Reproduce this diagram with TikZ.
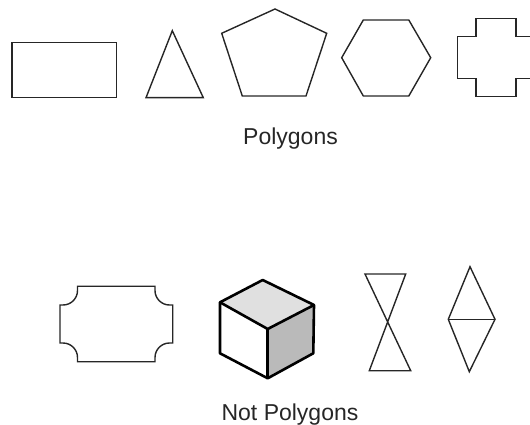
\documentclass[tikz,border=0pt]{standalone}
\usepackage{fontspec}
\setmainfont{Liberation Sans}
\begin{document}
\begin{tikzpicture}[x=1pt,y=-1pt,
  thinshape/.style={draw=black!85,line width=1.4pt,line join=miter},
  cubeline/.style={draw=black,line width=2.6pt,line join=round},
  caption/.style={inner sep=0pt,anchor=base,font=\fontsize{23}{27}\selectfont,text=black!85}]
\useasboundingbox (0,0) rectangle (530,425);
% Polygons row
\draw[thinshape] (12,42.5) rectangle (116.7,97.7);
\draw[thinshape] (146,97.7) -- (203.3,97.7) -- (172.3,30.7) -- cycle;
\draw[thinshape] (275,9) -- (326.7,33.3) -- (306,96) -- (242.3,96) -- (221.7,33.3) -- cycle;
\draw[thinshape] (363.3,20) -- (408.8,20) -- (430.7,57.7) -- (408.8,96) -- (363.3,96) -- (341.7,57.7) -- cycle;
\draw[thinshape] (531,36.7) -- (516,36.7) -- (516,18.3) -- (476,18.3) -- (476,36.7) -- (457.3,36.7)
  -- (457.3,78.3) -- (476,78.3) -- (476,96.7) -- (516,96.7) -- (516,78.3) -- (531,78.3);
\node[caption] (poly) at (290.5,145) {Polygons};
% Not polygons row
\draw[thinshape] (77.5,286.2) -- (155,286.2) -- (155,290.5) arc[start angle=180,end angle=90,radius=14.5]
  -- (172.7,305) -- (172.7,343) -- (169.5,343) arc[start angle=270,end angle=180,radius=14.5]
  -- (155,361.7) -- (77.5,361.7) -- (77.5,357.5) arc[start angle=0,end angle=-90,radius=14.5]
  -- (60,343) -- (60,305) -- (63,305) arc[start angle=90,end angle=0,radius=14.5] -- cycle;
% cube
\fill[black!12] (262.7,280) -- (314,305) -- (267.7,329) -- (220,302.3) -- cycle;
\fill[black!27] (314,305) -- (313.3,353.3) -- (267.7,378.3) -- (267.7,329) -- cycle;
\draw[cubeline] (262.7,280) -- (314,305) -- (313.3,353.3) -- (267.7,378.3) -- (220,353.3) -- (220,302.3) -- cycle;
\draw[cubeline] (220,302.3) -- (267.7,329) -- (314,305);
\draw[cubeline] (267.7,329) -- (267.7,378.3);
% bow tie
\draw[thinshape] (365,274) -- (405.7,274) -- (369.3,370.7) -- (410.7,370.7) -- cycle;
% double triangle
\draw[thinshape] (470,266.7) -- (495,319.3) -- (469.3,371.7) -- (448.3,319.3) -- cycle;
\draw[thinshape] (448.3,319.3) -- (495,319.3);
\node[caption] (notpoly) at (290,420) {Not Polygons};
\end{tikzpicture}
\end{document}
